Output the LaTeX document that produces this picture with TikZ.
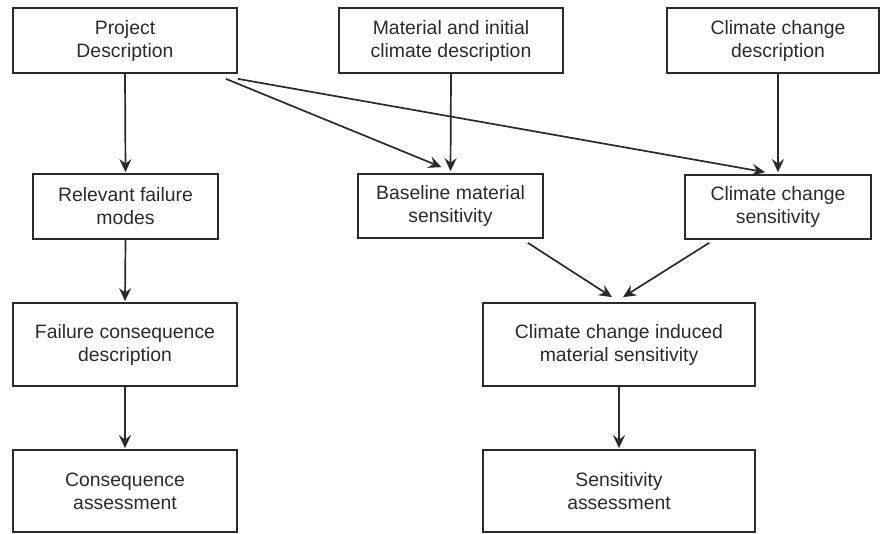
\documentclass[tikz,border=0pt]{standalone}
\usepackage{fontspec}
\setmainfont{Liberation Sans}
\usetikzlibrary{arrows.meta,calc}
\definecolor{ink}{HTML}{2A2A2A}
\tikzset{
  box/.style={draw=ink, line width=1.7pt, rectangle, align=center, inner sep=0pt,
    text=ink, font=\fontsize{19.4}{23}\selectfont},
  conn/.style={draw=ink, line width=1.7pt, -{Stealth[length=13pt,width=12pt,inset=4.5pt]}}
}
\begin{document}
\begin{tikzpicture}[x=1pt,y=-1pt]
\useasboundingbox (0,0) rectangle (882,533);
\node[box, minimum width=224pt, minimum height=65pt] (PD) at (125,40.5) {Project\\Description};
\node[box, minimum width=224pt, minimum height=65pt] (Mat) at (451,40.5) {Material and initial\\climate description};
\node[box, minimum width=212pt, minimum height=65pt] (CCD) at (773,40.5) {\hspace*{10pt}Climate change\\\hspace*{10pt}description};
\node[box, minimum width=185pt, minimum height=65pt] (Rel) at (125.5,206.5) {Relevant failure\\modes};
\node[box, minimum width=185pt, minimum height=64pt] (Base) at (450.5,206) {Baseline material\\sensitivity};
\node[box, minimum width=186pt, minimum height=64pt] (CCS) at (778,207) {Climate change\\sensitivity};
\node[box, minimum width=224pt, minimum height=83pt] (FC) at (125,344.5) {Failure consequence\\description};
\node[box, minimum width=272pt, minimum height=83pt] (CCI) at (619,344.5) {Climate change induced\\material sensitivity};
\node[box, minimum width=224pt, minimum height=82pt] (CA) at (125,491) {Consequence\\assessment};
\node[box, minimum width=272pt, minimum height=82pt] (SA) at (619,491) {Sensitivity\\assessment};

\draw[conn, shorten >=1pt] (PD.south) -- (Rel.north);
\draw[conn, shorten >=1pt] (Rel.south) -- (FC.north);
\draw[conn, shorten >=1pt] (FC.south) -- (CA.north);
\draw[conn, shorten >=2pt] (Mat.south) -- (Base.north);
\draw[conn, shorten >=2pt] (CCD.south -| CCS.north) -- (CCS.north);
\draw[conn, shorten >=1pt] (CCI.south) -- (SA.north);

\coordinate (pd1) at ($(PD.south east)+(-12,5)$);
\coordinate (pd2) at ($(PD.south east)+(0,5)$);
\coordinate (b1) at ($(Base.north)+(-9,-6)$);
\coordinate (c1) at ($(CCS.north)+(-13,-2)$);
\draw[conn] (pd1) -- (b1);
\draw[conn] (pd2) -- (c1);

\coordinate (b2) at ($(Base.south east)+(-16,4)$);
\coordinate (c2) at ($(CCS.south west)+(25,3)$);
\coordinate (i1) at ($(CCI.north)+(-7,-5)$);
\coordinate (i2) at ($(CCI.north)+(4,-5)$);
\draw[conn] (b2) -- (i1);
\draw[conn] (c2) -- (i2);
\end{tikzpicture}
\end{document}
